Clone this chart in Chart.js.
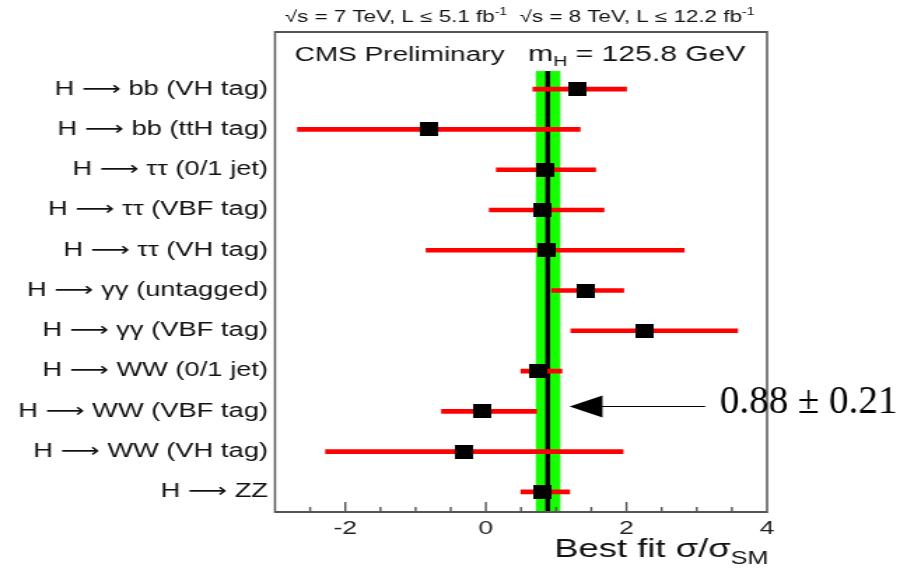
<!DOCTYPE html>
<html>
<head>
<meta charset="utf-8">
<script src="https://cdn.jsdelivr.net/npm/chart.js@4.4.1/dist/chart.umd.min.js"></script>
<style>
  html, body { margin: 0; padding: 0; background: #ffffff; }
</style>
</head>
<body>
<canvas id="c" width="653" height="571" style="display:block;width:914px;height:571px"></canvas>
<script>
// ---- data ----
const categories = [
  'H \u27f6 bb (VH tag)',
  'H \u27f6 bb (ttH tag)',
  'H \u27f6 \u03c4\u03c4 (0/1 jet)',
  'H \u27f6 \u03c4\u03c4 (VBF tag)',
  'H \u27f6 \u03c4\u03c4 (VH tag)',
  'H \u27f6 \u03b3\u03b3 (untagged)',
  'H \u27f6 \u03b3\u03b3 (VBF tag)',
  'H \u27f6 WW (0/1 jet)',
  'H \u27f6 WW (VBF tag)',
  'H \u27f6 WW (VH tag)',
  'H \u27f6 ZZ'
];
const bestFit = [1.31, -0.80, 0.84, 0.81, 0.86, 1.42, 2.25, 0.75, -0.05, -0.31, 0.80];
const errLow  = [0.67, -2.68, 0.15, 0.05, -0.85, 0.94, 1.21, 0.50, -0.63, -2.28, 0.50];
const errHigh = [2.00, 1.34, 1.56, 1.68, 2.82, 1.96, 3.58, 1.08, 0.72, 1.95, 1.19];
const combinedFit = [0.88];
const combinedBand = [0.71, 1.06];
const xTickLabels = [-2, 0, 2, 4];
const annotationText = '0.88 \u00b1 0.21';
const arrowX = [3.12, 1.19];   // tail, tip (x values)
const arrowYValue = 7.88;
const headerParts = ['\u221as = 7 TeV, L \u2264 5.1 fb', '-1', '  \u221as = 8 TeV, L \u2264 12.2 fb', '-1'];

// ---- setup ----
const canvas = document.getElementById('c');
const SX = 914 / canvas.width; // horizontal display stretch

const marker = document.createElement('canvas');
marker.width = 13; marker.height = 14;
(function(){ const m = marker.getContext('2d'); m.fillStyle = '#000'; m.fillRect(0, 0, 13, 14); })();

const FONT = "'Liberation Sans', 'DejaVu Sans', Arial, sans-serif";

const decorPlugin = {
  id: 'decor',
  beforeDatasetsDraw(chart) {
    const {ctx, scales: {x, y}, chartArea} = chart;
    const top = y.getPixelForValue(-0.45);
    const bot = chartArea.bottom;
    ctx.save();
    ctx.fillStyle = '#14ff00';
    const xl = x.getPixelForValue(combinedBand[0]);
    const xr = x.getPixelForValue(combinedBand[1]);
    ctx.fillRect(xl, top, xr - xl, bot - top);
    ctx.fillStyle = '#000';
    const xc = x.getPixelForValue(combinedFit[0]);
    ctx.fillRect(xc - 1.7, top, 3.4, bot - top);
    ctx.restore();
  },
  afterDatasetsDraw(chart) {
    const {ctx, scales: {x, y}, chartArea: a} = chart;
    ctx.save();
    // frame
    ctx.strokeStyle = '#555';
    ctx.lineWidth = 2;
    ctx.beginPath();
    ctx.moveTo(a.left, a.top); ctx.lineTo(a.right, a.top);
    ctx.moveTo(a.left, a.bottom); ctx.lineTo(a.right, a.bottom);
    ctx.stroke();
    ctx.lineWidth = 1.5;
    ctx.beginPath();
    ctx.moveTo(a.left, a.top - 1); ctx.lineTo(a.left, a.bottom + 1);
    ctx.moveTo(a.right, a.top - 1); ctx.lineTo(a.right, a.bottom + 1);
    ctx.stroke();
    // inward ticks
    ctx.lineWidth = 1.4;
    ctx.beginPath();
    x.ticks.forEach(t => {
      if (t.value <= x.min || t.value >= x.max) return;
      const px = x.getPixelForValue(t.value);
      const len = xTickLabels.includes(t.value) ? 10 : 5;
      ctx.moveTo(px, a.bottom); ctx.lineTo(px, a.bottom - len);
    });
    ctx.stroke();

    // header text
    ctx.fillStyle = '#111';
    ctx.textBaseline = 'alphabetic';
    let cx = a.left + 7;
    headerParts.forEach((p, i) => {
      const sup = i % 2 === 1;
      ctx.font = (sup ? '10px ' : '16px ') + FONT;
      ctx.fillText(p, cx, sup ? 15 : 21.5);
      cx += ctx.measureText(p).width;
    });

    // CMS Preliminary and m_H
    ctx.font = '20px ' + FONT;
    ctx.fillText('CMS Preliminary', a.left + 14, 61);
    ctx.font = '21.5px ' + FONT;
    let mx = x.getPixelForValue(0.6);
    ctx.fillText('m', mx, 61);
    mx += ctx.measureText('m').width;
    ctx.font = '14px ' + FONT;
    ctx.fillText('H', mx, 66);
    mx += ctx.measureText('H').width;
    ctx.font = '21.5px ' + FONT;
    ctx.fillText(' = 125.8 GeV', mx, 61);

    // x title
    const mainT = 'Best fit \u03c3/\u03c3';
    ctx.font = '18px ' + FONT;
    const subW = ctx.measureText('SM').width;
    ctx.font = '26px ' + FONT;
    const mainW = ctx.measureText(mainT).width;
    const endX = a.right + 1;
    ctx.fillText(mainT, endX - subW - mainW, 557);
    ctx.font = '18px ' + FONT;
    ctx.fillText('SM', endX - subW, 564);

    ctx.restore();
  },
  afterDraw(chart) {
    const {ctx, scales: {x, y}} = chart;
    const yA = y.getPixelForValue(arrowYValue);
    const xTail = x.getPixelForValue(arrowX[0]);
    const xTip = x.getPixelForValue(arrowX[1]);
    ctx.save();
    ctx.strokeStyle = '#000';
    ctx.lineWidth = 1.2;
    ctx.beginPath();
    ctx.moveTo(xTail, yA); ctx.lineTo(xTip + 10, yA);
    ctx.stroke();
    ctx.fillStyle = '#000';
    ctx.beginPath();
    ctx.moveTo(xTip, yA);
    ctx.lineTo(xTip + 33 / SX, yA - 11);
    ctx.lineTo(xTip + 33 / SX, yA + 11);
    ctx.closePath();
    ctx.fill();
    // annotation text (drawn compressed so that it appears unstretched)
    ctx.scale(1 / SX, 1);
    ctx.font = "39px 'Liberation Serif', 'DejaVu Serif', serif";
    ctx.textBaseline = 'alphabetic';
    ctx.fillText(annotationText, x.getPixelForValue(3.33) * SX, yA + 7);
    ctx.restore();
  }
};

new Chart(canvas, {
  type: 'scatter',
  data: {
    datasets: [
      {
        type: 'bar',
        indexAxis: 'y',
        data: categories.map((c, i) => ({ y: i, x: [errLow[i], errHigh[i]] })),
        backgroundColor: '#ff0000',
        borderWidth: 0,
        barThickness: 4,
        order: 1
      },
      {
        type: 'scatter',
        data: categories.map((c, i) => ({ x: bestFit[i], y: i })),
        pointStyle: marker,
        pointRadius: 9,
        pointHoverRadius: 9,
        order: 0
      }
    ]
  },
  options: {
    responsive: false,
    devicePixelRatio: 1,
    animation: false,
    events: [],
    layout: { padding: { top: 32, right: 105, left: 0, bottom: 0 } },
    plugins: { legend: { display: false }, tooltip: { enabled: false } },
    scales: {
      x: {
        type: 'linear',
        min: -3, max: 4,
        offset: false,
        beginAtZero: false,
        grid: { display: false, drawTicks: false, offset: false },
        border: { display: false },
        afterFit(s) { s.height = 59; },
        ticks: {
          stepSize: 0.5,
          autoSkip: false,
          maxRotation: 0,
          padding: 5,
          color: '#222',
          font: { family: FONT, size: 19 },
          callback: v => (xTickLabels.includes(v) ? String(v) : '')
        }
      },
      y: {
        type: 'linear',
        reverse: true,
        min: -1.42, max: 10.5,
        offset: false,
        grid: { display: false, drawTicks: false, offset: false },
        border: { display: false },
        afterBuildTicks(s) { s.ticks = categories.map((c, i) => ({ value: i })); },
        afterFit(s) { s.width = 275 / SX; },
        ticks: {
          autoSkip: false,
          padding: 5,
          color: '#111',
          font: { family: FONT, size: 19.5 },
          callback: v => categories[v]
        }
      }
    }
  },
  plugins: [decorPlugin]
});
</script>
</body>
</html>
